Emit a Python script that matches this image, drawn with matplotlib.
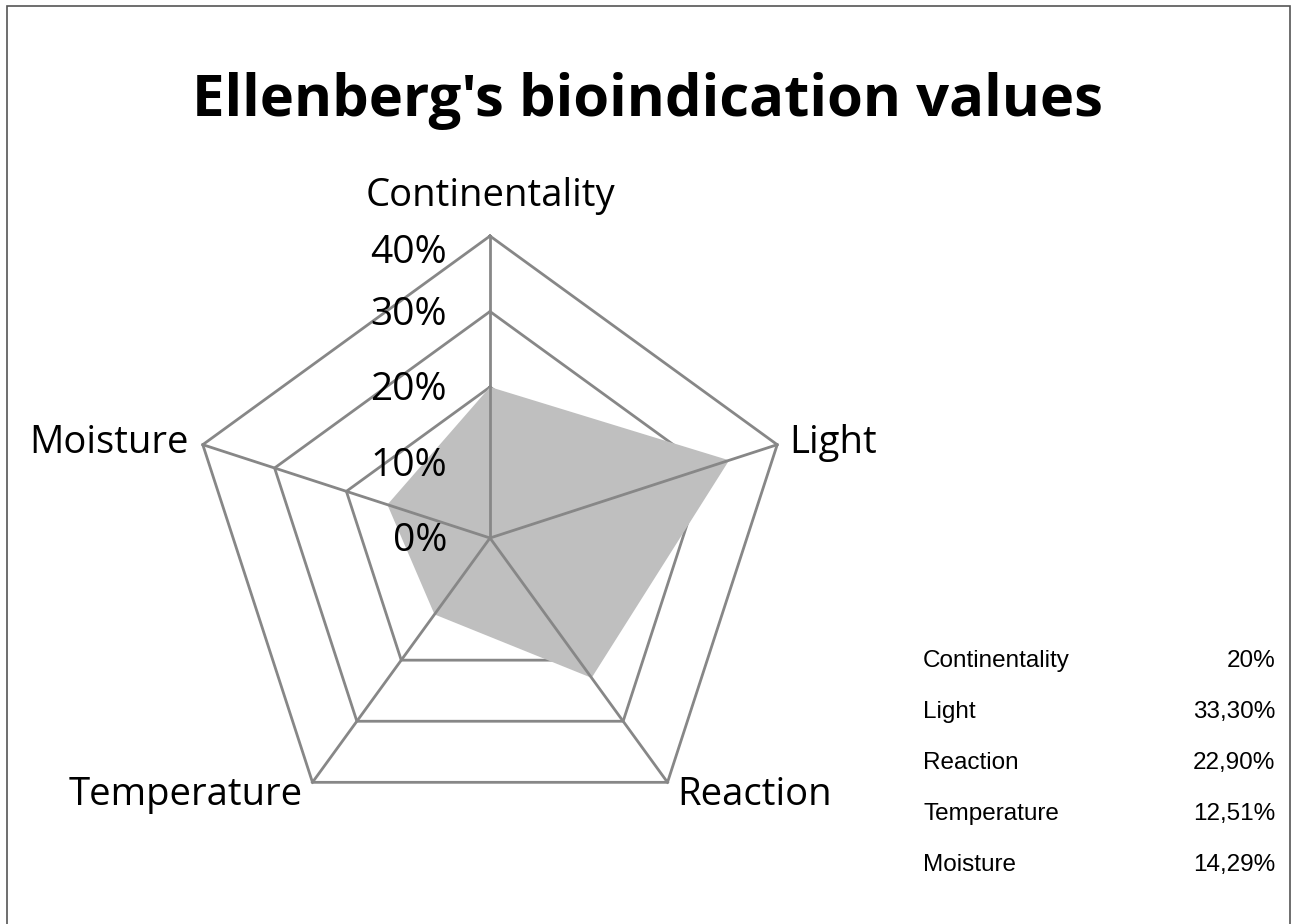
import numpy as np
import matplotlib
matplotlib.use("Agg")
import matplotlib.pyplot as plt
from matplotlib.patches import Rectangle, Polygon

categories = ["Continentality", "Light", "Reaction", "Temperature", "Moisture"]
values = [20.0, 33.30, 22.90, 12.51, 14.29]
value_labels = ["20%", "33,30%", "22,90%", "12,51%", "14,29%"]
ticks = [0, 10, 20, 30, 40]
tick_labels = ["0%", "10%", "20%", "30%", "40%"]
title = "Ellenberg's bioindication values"

W, H = 1293, 924
cx, cy = 490, 538          # centre in pixels (from top)
rad_px = 302.0
rmax = 40.0
s = rmax / rad_px          # data units per pixel

fig = plt.figure(figsize=(W / 100, H / 100), dpi=100)
ax = fig.add_axes([0, 0, 1, 1])
ax.set_xlim(-cx * s, (W - cx) * s)
ax.set_ylim(-(H - cy) * s, cy * s)
ax.set_axis_off()

def px(x, y):
    return (x - cx) * s, (cy - y) * s

n = len(categories)
ang = np.arange(n) * 2 * np.pi / n

def xy(vals):
    v = np.asarray(vals, dtype=float)
    return v * np.sin(ang), v * np.cos(ang)

grid_col = "#878787"
# grid rings (below the fill)
for t in ticks[1:]:
    gx, gy = xy([t] * n)
    ax.plot(np.append(gx, gx[0]), np.append(gy, gy[0]), color=grid_col, lw=2.0,
            zorder=1, solid_joinstyle="miter")
# data fill
dx, dy = xy(values)
ax.add_patch(Polygon(np.column_stack([dx, dy]), closed=True, facecolor="#bfbfbf",
                     edgecolor="none", zorder=2))
# spokes (above the fill)
for a in ang:
    ax.plot([0, rmax * np.sin(a)], [0, rmax * np.cos(a)], color=grid_col, lw=2.0, zorder=3)

font_main = ["Open Sans", "DejaVu Sans"]
# tick labels
tick_offsets = [-3, -3, -3, -3, -17]
for t, lab, off in zip(ticks, tick_labels, tick_offsets):
    x0, y0 = px(447, 0)
    ax.text(x0, t + off * s, lab, ha="right", va="center", fontsize=28,
            family=font_main, zorder=4)

# category labels
lab_pos = [(490, 196, "center", "center"), (789, 443, "left", "center"),
           (677, 795, "left", "center"), (303, 795, "right", "center"),
           (189, 443, "right", "center")]
for c, (lx, ly, ha, va) in zip(categories, lab_pos):
    x0, y0 = px(lx, ly)
    ax.text(x0, y0, c, ha=ha, va=va, fontsize=27.5, family=font_main, zorder=4)

# title
x0, y0 = px(648, 101)
ax.text(x0, y0, title, ha="center", va="center", fontsize=41.8, fontweight="bold",
        family=font_main)

# data table
font_tab = ["Liberation Sans Narrow", "Liberation Sans", "DejaVu Sans"]
for i, (c, vl) in enumerate(zip(categories, value_labels)):
    yy = 661 + i * 51
    x0, y0 = px(923, yy)
    ax.text(x0, y0, c, ha="left", va="center", fontsize=17.5, family=font_tab)
    x1, _ = px(1275, yy)
    ax.text(x1, y0, vl, ha="right", va="center", fontsize=17.5, family=font_tab)

# border
fig.patches.append(Rectangle((7 / W, -0.02), (1290 - 7) / W, 1 - 6 / H + 0.02,
                             transform=fig.transFigure, fill=False,
                             edgecolor="#555555", lw=1.2))

fig.savefig("out.png", dpi=100)
